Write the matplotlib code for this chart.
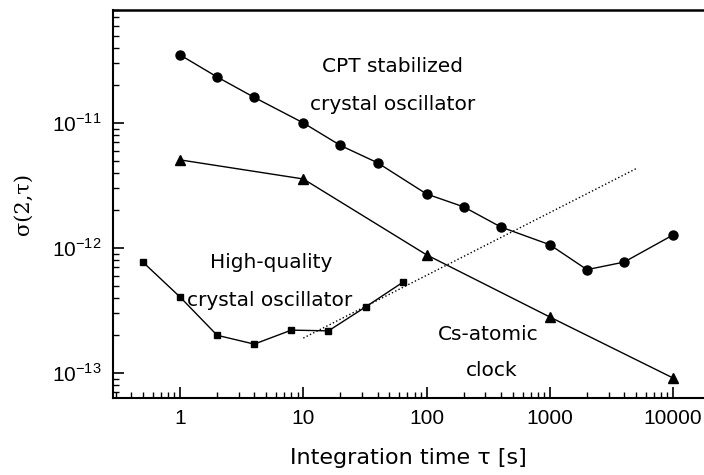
#!/usr/bin/env python3
"""Allan deviation comparison: CPT stabilized vs crystal vs Cs clock."""
import numpy as np
import matplotlib
matplotlib.use("Agg")
import matplotlib.pyplot as plt
from matplotlib.ticker import LogLocator, NullFormatter

plt.rcParams['font.family'] = ['Liberation Sans', 'DejaVu Sans']
plt.rcParams['mathtext.fontset'] = 'custom'
plt.rcParams['mathtext.rm'] = 'Liberation Sans'

# CPT stabilized crystal oscillator (circles)
cpt_tau = [1, 2, 4, 10, 20, 40, 100, 200, 400, 1000, 2000, 4000, 10000]
cpt_sigma = [3.5e-11, 2.33e-11, 1.6e-11, 1.0e-11, 6.6e-12, 4.8e-12, 2.7e-12,
             2.13e-12, 1.47e-12, 1.06e-12, 6.7e-13, 7.7e-13, 1.27e-12]

# Cs atomic clock (triangles)
cs_tau = [1, 10, 100, 1000, 10000]
cs_sigma = [5.06e-12, 3.56e-12, 8.8e-13, 2.8e-13, 9.1e-14]

# High-quality crystal oscillator (squares)
hq_tau = [0.5, 1, 2, 4, 8, 16, 32, 64]
hq_sigma = [7.7e-13, 4.05e-13, 2.0e-13, 1.7e-13, 2.2e-13, 2.17e-13, 3.37e-13, 5.3e-13]

# dotted tau^1/2 guide line
guide_tau = [10, 5000]
guide_sigma = [1.9e-13, 4.3e-12]

xticks = [1, 10, 100, 1000, 10000]
xtick_labels = ['1', '10', '100', '1000', '10000']
yticks = [1e-13, 1e-12, 1e-11]
ytick_labels = [r'$10^{-13}$', r'$10^{-12}$', r'$10^{-11}$']

fig = plt.figure(figsize=(7.04, 4.75), dpi=100)
ax = fig.add_axes([113 / 704, 1 - 398 / 475, (704 - 113) / 704, (398 - 10) / 475])
ax.set_xscale('log')
ax.set_yscale('log')

ax.plot(cpt_tau, cpt_sigma, 'k-', lw=1.0, marker='o', ms=6.5)
ax.plot(cs_tau, cs_sigma, 'k-', lw=1.0, marker='^', ms=7)
ax.plot(hq_tau, hq_sigma, 'k-', lw=1.0, marker='s', ms=5)
ax.plot(guide_tau, guide_sigma, 'k:', lw=1.0)

ax.set_xlim(0.286, 17800)
ax.set_ylim(6.3e-14, 8.0e-11)

ax.set_xticks(xticks)
ax.set_xticklabels(xtick_labels)
ax.set_yticks(yticks)
ax.set_yticklabels(ytick_labels)
ax.xaxis.set_minor_locator(LogLocator(base=10, subs=np.arange(2, 10), numticks=20))
ax.xaxis.set_minor_formatter(NullFormatter())
ax.yaxis.set_minor_locator(LogLocator(base=10, subs=np.arange(2, 10), numticks=20))
ax.yaxis.set_minor_formatter(NullFormatter())

ax.tick_params(which='both', direction='in', labelsize=15, top=False, right=False)
ax.tick_params(which='major', length=8, width=1.2, pad=8)
ax.tick_params(which='minor', length=4, width=1.0)

ax.spines['right'].set_visible(False)
ax.spines['top'].set_linewidth(1.8)
ax.spines['left'].set_linewidth(1.5)
ax.spines['bottom'].set_linewidth(1.5)

ax.set_xlabel('Integration time τ [s]', fontsize=16, labelpad=14, family=['DejaVu Sans'])
ax.set_ylabel('σ(2,τ)', fontsize=15, labelpad=14, family=['DejaVu Serif'])

txt = dict(fontsize=14.5, ha='center', va='center', transform=fig.transFigure,
           family=['DejaVu Sans'])
fig.text(393 / 704, 1 - 67 / 475, 'CPT stabilized', **txt)
fig.text(393 / 704, 1 - 105 / 475, 'crystal oscillator', **txt)
fig.text(271 / 704, 1 - 262 / 475, 'High-quality', **txt)
fig.text(270 / 704, 1 - 300 / 475, 'crystal oscillator', **txt)
fig.text(488 / 704, 1 - 334 / 475, 'Cs-atomic', **txt)
fig.text(492 / 704, 1 - 371 / 475, 'clock', **txt)

fig.savefig('out.png', dpi=100)
